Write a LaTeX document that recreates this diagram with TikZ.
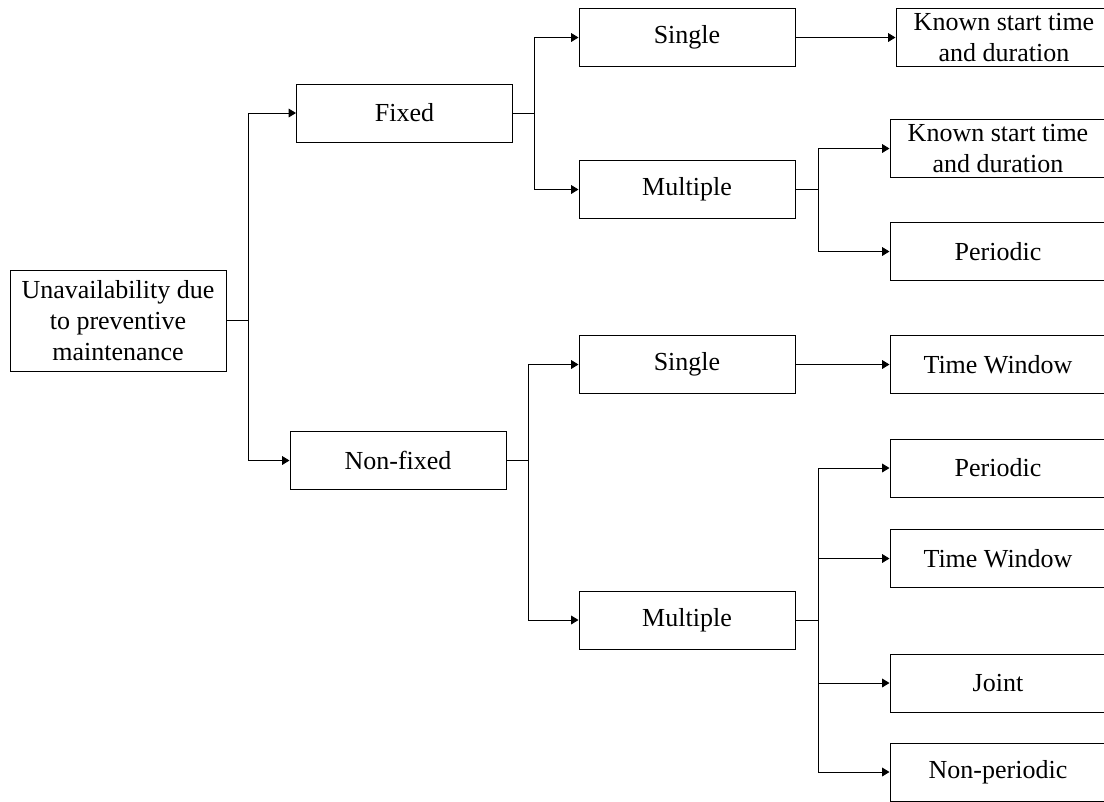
\documentclass[tikz,border=0pt]{standalone}
\usepackage{fontspec}
\setmainfont{Liberation Serif}
\usetikzlibrary{arrows.meta}

\tikzset{
  box/.style={draw, line width=0.75pt, minimum width=162pt, minimum height=43.5pt,
    inner sep=0pt, align=center, font=\fontsize{19.5}{23}\selectfont},
  link/.style={line width=0.75pt},
  linkarr/.style={line width=0.75pt, -{Triangle[length=5.5pt,width=6.5pt]}}
}

\begin{document}
\begin{tikzpicture}[x=0.75pt, y=-0.75pt]
  \clip (0,0) rectangle (1104,801);
  \fill[white] (0,0) rectangle (1104,801);
  % first level
  \node[box, minimum height=75.75pt] (root) at (118,320.5) {Unavailability due\\to preventive\\maintenance};
  \node[box] (fixed) at (404.5,113) {Fixed};
  \node[box] (nonfixed) at (398,460.5) {Non-fixed};
  % second level
  \node[box] (fsingle) at (687,37.5) {Single};
  \node[box] (fmultiple) at (687,189.5) {Multiple};
  \node[box] (nsingle) at (687,364.5) {Single};
  \node[box] (nmultiple) at (687,620) {Multiple};
  % third level
  \node[box] (fknownA) at (1004,37.5) {Known start time\\and duration};
  \node[box] (fknownB) at (998,148.5) {Known start time\\and duration};
  \node[box] (fperiodic) at (998,251.5) {Periodic};
  \node[box] (nwindowA) at (998,364.5) {Time Window};
  \node[box] (nperiodic) at (998,468) {Periodic};
  \node[box] (nwindowB) at (998,558.5) {Time Window};
  \node[box] (njoint) at (998,683) {Joint};
  \node[box] (nnonper) at (998,772) {Non-periodic};
  % junctions
  \coordinate (j0) at (248,320.5);
  \coordinate (jf) at (534,113);
  \coordinate (jn) at (528,460.5);
  \coordinate (jfm) at (818,189.5);
  \coordinate (jnm) at (818,620);
  % connectors
  \draw[link] (root.east) -- (j0);
  \draw[linkarr] (j0) |- (fixed.west);
  \draw[linkarr] (j0) |- (nonfixed.west);
  \draw[link] (fixed.east) -- (jf);
  \draw[linkarr] (jf) |- (fsingle.west);
  \draw[linkarr] (jf) |- (fmultiple.west);
  \draw[link] (nonfixed.east) -- (jn);
  \draw[linkarr] (jn) |- (nsingle.west);
  \draw[linkarr] (jn) |- (nmultiple.west);
  \draw[linkarr] (fsingle.east) -- (fknownA.west);
  \draw[link] (fmultiple.east) -- (jfm);
  \draw[linkarr] (jfm) |- (fknownB.west);
  \draw[linkarr] (jfm) |- (fperiodic.west);
  \draw[linkarr] (nsingle.east) -- (nwindowA.west);
  \draw[link] (nmultiple.east) -- (jnm);
  \draw[linkarr] (jnm) |- (nperiodic.west);
  \draw[linkarr] (jnm) |- (nwindowB.west);
  \draw[linkarr] (jnm) |- (njoint.west);
  \draw[linkarr] (jnm) |- (nnonper.west);
\end{tikzpicture}
\end{document}
